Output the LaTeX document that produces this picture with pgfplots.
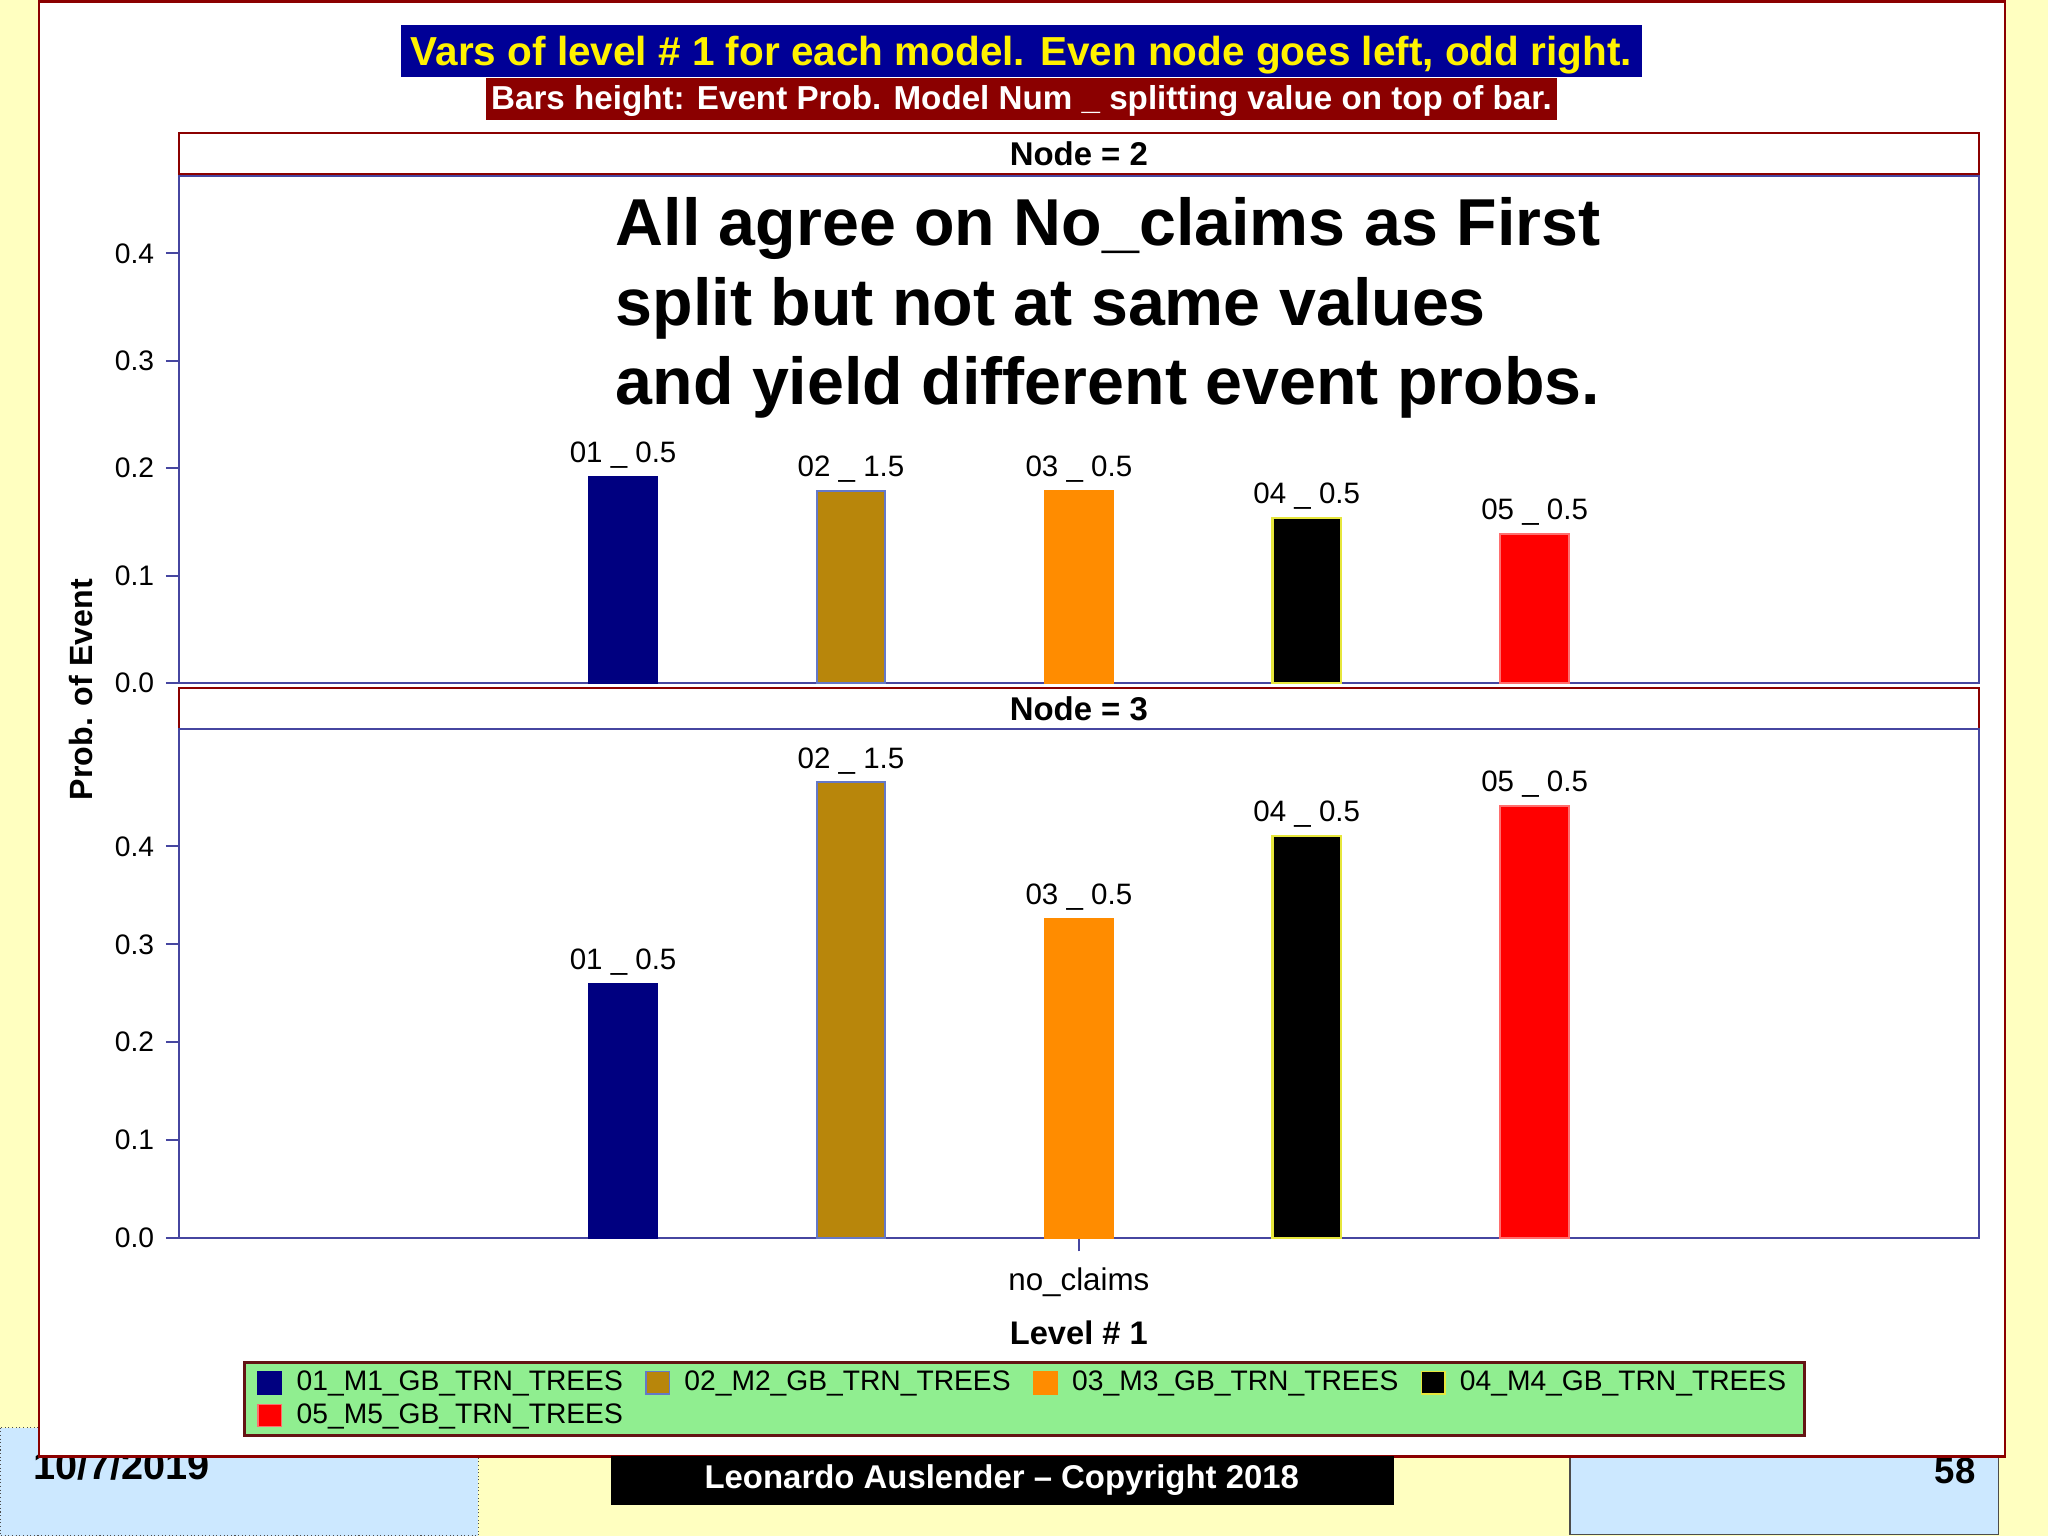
\documentclass[border=0pt]{standalone}
\usepackage{pgfplots}
\pgfplotsset{compat=1.18}
\usepackage{fontspec}
\setmainfont{Liberation Sans}
\definecolor{bgyellow}{RGB}{255,255,192}
\definecolor{lblue}{RGB}{204,232,255}
\definecolor{panelred}{RGB}{139,0,0}
\definecolor{titleblue}{RGB}{0,0,150}
\definecolor{subred}{RGB}{139,0,0}
\definecolor{axisblue}{RGB}{70,70,160}
\definecolor{legendgreen}{RGB}{144,238,144}
\definecolor{legendborder}{RGB}{100,20,20}
\definecolor{barnavy}{RGB}{0,0,128}
\definecolor{bargold}{RGB}{184,134,11}
\definecolor{barorange}{RGB}{255,140,0}
\definecolor{barred}{RGB}{255,0,0}
\definecolor{outlinegold}{RGB}{100,120,200}
\definecolor{outlineblack}{RGB}{230,230,60}
\definecolor{outlinered}{RGB}{255,110,110}
\newcommand{\fs}[1]{\fontsize{#1}{#1}\selectfont}
\pgfplotsset{
  mybar/.style={ybar, bar width=26.25bp, bar shift=0pt, line width=0.8bp,
    legend image code/.code={\draw[##1, line width=0.6bp] (0bp,-4.25bp) rectangle (9bp,4.25bp);}},
  panel/.style={
    scale only axis, width=689bp, anchor=south west,
    xmin=-3.949, xmax=3.949, ymin=0,
    ytick={0,0.1,0.2,0.3,0.4}, yticklabels={0.0,0.1,0.2,0.3,0.4},
    ytick pos=left, tick align=outside, major tick length=5bp,
    tick style={draw=axisblue, line width=0.8bp},
    axis line style={draw=axisblue, line width=0.8bp},
    yticklabel style={font=\fs{10.8bp}, inner sep=0pt, anchor=east, xshift=-4.3bp},
    point meta=explicit symbolic, nodes near coords,
    every node near coord/.append style={font=\fs{11.3bp}, anchor=base, yshift=5.5bp, inner sep=0pt, text=black},
    clip=false,
  },
}
\begin{document}
\begin{tikzpicture}
\begin{scope}[x=0.5bp,y=-0.5bp]
\path[use as bounding box] (0,0) rectangle (1568,1176);
\fill[bgyellow] (0,0) rectangle (1568,1176);
\filldraw[fill=lblue, draw=black!70, densely dotted, line width=0.4bp] (0,1093) rectangle (366,1176);
\filldraw[fill=lblue, draw=black!70, line width=0.5bp] (1202,1093) rectangle (1530,1175);
\node[anchor=base west, inner sep=0, font=\bfseries\fs{15.2bp}] at (25,1133) {10/7/2019};
\node[anchor=base east, inner sep=0, font=\bfseries\fs{14bp}] at (1513,1136) {58};
\filldraw[fill=white, draw=panelred, line width=1bp] (30,1) rectangle (1535,1115);
\fill[titleblue] (307,19) rectangle (1257,59);
\node[anchor=base, inner sep=0, text=yellow, font=\bfseries\fs{15.5bp}] at (782,50) {Vars of level \# 1 for each model. Even node goes left, odd right.};
\fill[subred] (372,60) rectangle (1192,92);
\node[anchor=base, inner sep=0, text=white, font=\bfseries\fs{12.7bp}] at (782,84) {Bars height: Event Prob. Model Num \_ splitting value on top of bar.};
\filldraw[fill=white, draw=panelred, line width=0.8bp] (137,102) rectangle (1515,133);
\node[anchor=base, inner sep=0, font=\bfseries\fs{12.6bp}] at (826,127) {Node = 2};
\filldraw[fill=white, draw=panelred, line width=0.8bp] (137,527) rectangle (1515,558);
\node[anchor=base, inner sep=0, font=\bfseries\fs{12.6bp}] at (826,552) {Node = 3};
\coordinate (topSW) at (137,523);
\coordinate (botSW) at (137,948);
\end{scope}

\begin{axis}[panel, at={(topSW)}, height=194bp, ymax=0.4717, xtick=\empty]
\addplot[mybar, fill=barnavy, draw=barnavy] coordinates {(-2,0.1915) [01 \_ 0.5]};
\addplot[mybar, fill=bargold, draw=outlinegold] coordinates {(-1,0.179) [02 \_ 1.5]};
\addplot[mybar, fill=barorange, draw=barorange] coordinates {(0,0.179) [03 \_ 0.5]};
\addplot[mybar, fill=black, draw=outlineblack] coordinates {(1,0.154) [04 \_ 0.5]};
\addplot[mybar, fill=barred, draw=outlinered] coordinates {(2,0.139) [05 \_ 0.5]};
\end{axis}

\begin{axis}[panel, at={(botSW)}, height=195bp, ymax=0.52,
  xtick={0}, xticklabels={no\_claims}, xtick pos=bottom,
  xticklabel style={font=\fs{12bp}, anchor=base, inner sep=0pt, yshift=-15bp},
  legend columns=4,
  legend style={at={(axis description cs:0.03556,-0.2410)}, anchor=north west,
    fill=legendgreen, draw=legendborder, line width=1bp,
    font=\fs{10.8bp}, inner xsep=5bp, inner ysep=1.3bp,
    column sep=3.5bp, row sep=-0.5bp,
    /tikz/every even column/.append style={column sep=6.5bp}},
  legend cell align=left]
\addplot[mybar, fill=barnavy, draw=barnavy] coordinates {(-2,0.2595) [01 \_ 0.5]};
\addlegendentry{01\_M1\_GB\_TRN\_TREES}
\addplot[mybar, fill=bargold, draw=outlinegold] coordinates {(-1,0.4653) [02 \_ 1.5]};
\addlegendentry{02\_M2\_GB\_TRN\_TREES}
\addplot[mybar, fill=barorange, draw=barorange] coordinates {(0,0.326) [03 \_ 0.5]};
\addlegendentry{03\_M3\_GB\_TRN\_TREES}
\addplot[mybar, fill=black, draw=outlineblack] coordinates {(1,0.4105) [04 \_ 0.5]};
\addlegendentry{04\_M4\_GB\_TRN\_TREES}
\addplot[mybar, fill=barred, draw=outlinered] coordinates {(2,0.441) [05 \_ 0.5]};
\addlegendentry{05\_M5\_GB\_TRN\_TREES}
\end{axis}

\begin{scope}[x=0.5bp,y=-0.5bp]
\node[anchor=base west, inner sep=0, font=\bfseries\fs{25.4bp}] at (471,188) {All agree on No\_claims as First};
\node[anchor=base west, inner sep=0, font=\bfseries\fs{25.4bp}] at (471,249) {split but not at same values};
\node[anchor=base west, inner sep=0, font=\bfseries\fs{25.4bp}] at (471,310) {and yield different event probs.};
\node[rotate=90, inner sep=0, font=\bfseries\fs{12.3bp}] at (62,528) {Prob. of Event};
\node[anchor=base, inner sep=0, font=\bfseries\fs{12.5bp}] at (826,1029) {Level \# 1};
\fill[black] (468,1115) rectangle (1067,1152);
\node[anchor=base, inner sep=0, text=white, font=\bfseries\fs{12.6bp}] at (767,1140) {Leonardo Auslender -- Copyright 2018};
\end{scope}
\end{tikzpicture}
\end{document}
